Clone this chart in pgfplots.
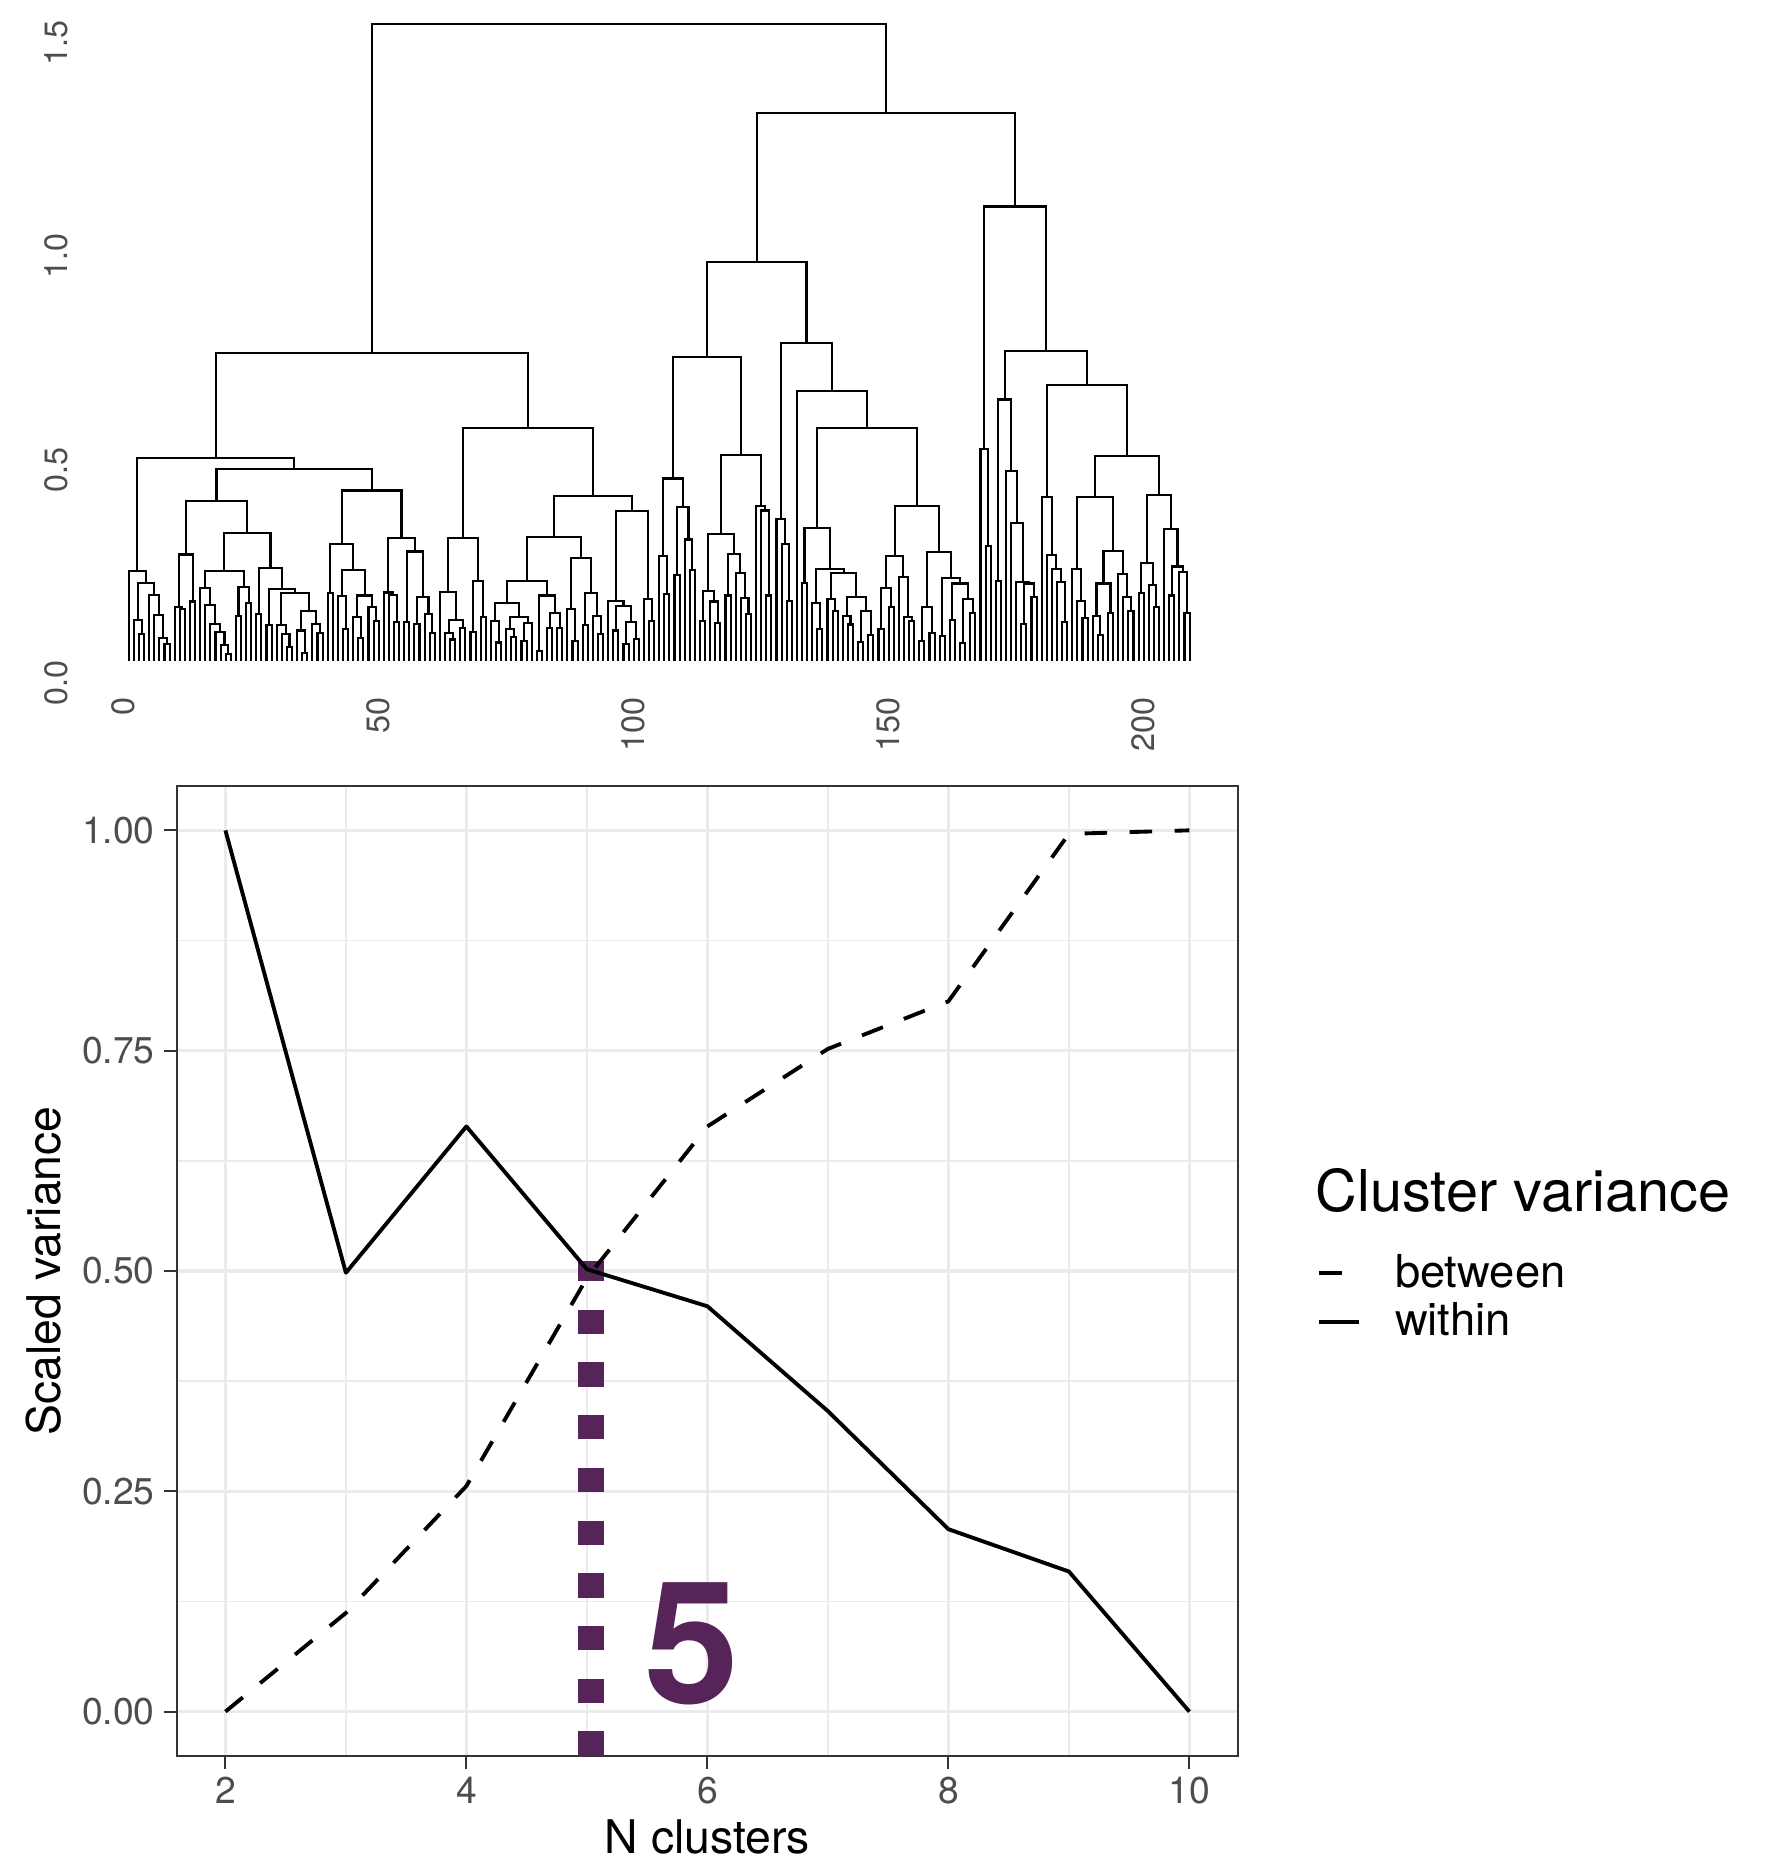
\documentclass[border=0pt]{standalone}
\usepackage{fontspec}
\setmainfont{TeX Gyre Heros}
\usepackage{pgfplots}
\usepackage{pgfplotstable}
\pgfplotsset{compat=1.18}
\definecolor{purp}{HTML}{57245A}
\definecolor{gridc}{HTML}{EBEBEB}
\definecolor{ticklab}{HTML}{4D4D4D}
\definecolor{frame}{HTML}{333333}

% dendrogram merges: left child x/height, right child x/height, merge height
\pgfplotstableread{
xl hl xr hr h
8 0 9 0 0.037
7 0 8.5 0.037 0.051
6 0 7.75 0.051 0.105
5 0 6.875 0.105 0.153
3 0 4 0 0.06
2 0 3.5 0.06 0.093
2.75 0.093 5.94 0.153 0.18
1 0 4.345 0.18 0.208
11 0 12 0 0.119
10 0 11.5 0.119 0.123
13 0 14 0 0.137
10.75 0.123 13.5 0.137 0.247
20 0 21 0 0.014
19 0 20.5 0.014 0.035
18 0 19.75 0.035 0.065
17 0 18.875 0.065 0.085
16 0 17.94 0.085 0.129
15 0 16.97 0.129 0.169
22 0 23 0 0.103
24 0 25 0 0.133
22.5 0.103 24.5 0.133 0.171
15.985 0.169 23.5 0.171 0.208
26 0 27 0 0.107
28 0 29 0 0.081
32 0 33 0 0.03
31 0 32.5 0.03 0.06
30 0 31.75 0.06 0.081
35 0 36 0 0.016
34 0 35.5 0.016 0.069
38 0 39 0 0.064
37 0 38.5 0.064 0.085
34.75 0.069 37.75 0.085 0.115
30.875 0.081 36.25 0.115 0.157
28.5 0.081 33.56 0.157 0.167
26.5 0.107 31.03 0.167 0.216
19.74 0.208 28.77 0.216 0.298
12.125 0.247 24.25 0.298 0.372
40 0 41 0 0.157
43 0 44 0 0.073
42 0 43.5 0.073 0.149
46 0 47 0 0.051
45 0 46.5 0.051 0.101
49 0 50 0 0.091
48 0 49.5 0.091 0.123
45.75 0.101 48.75 0.123 0.151
42.75 0.149 47.25 0.151 0.211
40.5 0.157 45 0.211 0.272
53 0 54 0 0.089
52 0 53.5 0.089 0.153
51 0 52.75 0.153 0.158
55 0 56 0 0.089
57 0 58 0 0.084
60 0 61 0 0.064
59 0 60.5 0.064 0.107
57.5 0.084 59.75 0.107 0.147
55.5 0.089 58.625 0.147 0.254
51.875 0.158 57.06 0.254 0.286
42.75 0.272 54.47 0.286 0.397
18.19 0.372 48.61 0.397 0.447
2.67 0.208 33.4 0.447 0.473
64 0 65 0 0.048
63 0 64.5 0.048 0.063
66 0 67 0 0.075
63.75 0.063 66.5 0.075 0.093
62 0 65.125 0.093 0.159
68 0 69 0 0.065
70 0 71 0 0.101
68.5 0.065 70.5 0.101 0.185
63.56 0.159 69.5 0.185 0.286
73 0 74 0 0.041
72 0 73.5 0.041 0.091
76 0 77 0 0.053
75 0 76.5 0.053 0.072
78 0 79 0 0.045
78.5 0.045 80 0 0.087
75.75 0.072 79.25 0.087 0.101
72.75 0.091 77.5 0.101 0.134
81 0 82 0 0.02
83 0 84 0 0.075
85 0 86 0 0.075
83.5 0.075 85.5 0.075 0.109
81.5 0.02 84.5 0.109 0.151
75.125 0.134 83 0.151 0.185
88 0 89 0 0.045
87 0 88.5 0.045 0.119
90 0 91 0 0.081
93 0 94 0 0.061
92 0 93.5 0.061 0.103
90.5 0.081 92.75 0.103 0.157
87.75 0.119 91.625 0.157 0.238
79.06 0.185 89.69 0.238 0.288
96 0 97 0 0.069
98 0 99 0 0.037
100 0 101 0 0.049
98.5 0.037 100.5 0.049 0.089
96.5 0.069 99.5 0.089 0.126
95 0 98 0.126 0.139
103 0 104 0 0.091
102 0 103.5 0.091 0.143
96.5 0.139 102.75 0.143 0.348
84.375 0.288 99.625 0.348 0.385
66.53 0.286 92 0.385 0.543
18.035 0.473 79.265 0.543 0.718
106 0 107 0 0.154
105 0 106.5 0.154 0.243
108 0 109 0 0.199
111 0 112 0 0.211
110 0 111.5 0.211 0.282
108.5 0.199 110.75 0.282 0.358
105.75 0.243 109.625 0.358 0.425
113 0 114 0 0.091
116 0 117 0 0.087
115 0 116.5 0.087 0.137
113.5 0.091 115.75 0.137 0.161
118 0 119 0 0.151
122 0 123 0 0.107
121 0 122.5 0.107 0.145
120 0 121.75 0.145 0.204
118.5 0.151 120.875 0.204 0.248
114.625 0.161 119.69 0.248 0.296
126 0 127 0 0.151
125 0 126.5 0.151 0.35
124 0 125.75 0.35 0.36
117.16 0.296 124.875 0.36 0.481
107.69 0.425 121.02 0.481 0.709
130 0 131 0 0.139
129 0 130.5 0.139 0.272
128 0 129.75 0.272 0.33
133 0 134 0 0.181
136 0 137 0 0.072
135 0 136.5 0.072 0.133
139 0 140 0 0.115
138 0 139.5 0.115 0.143
142 0 143 0 0.083
141 0 142.5 0.083 0.103
144 0 145 0 0.043
146 0 147 0 0.059
144.5 0.043 146.5 0.059 0.115
141.75 0.103 145.5 0.115 0.147
138.75 0.143 143.625 0.147 0.203
135.75 0.133 141.19 0.203 0.214
133.5 0.181 138.47 0.214 0.31
148 0 149 0 0.072
150 0 151 0 0.123
148.5 0.072 150.5 0.123 0.169
154 0 155 0 0.091
153 0 154.5 0.091 0.101
152 0 153.75 0.101 0.195
149.5 0.169 152.875 0.195 0.244
156 0 157 0 0.045
158 0 159 0 0.064
156.5 0.045 158.5 0.064 0.125
160 0 161 0 0.056
162 0 163 0 0.093
164 0 165 0 0.04
166 0 167 0 0.111
164.5 0.04 166.5 0.111 0.143
162.5 0.093 165.5 0.143 0.179
160.5 0.056 164 0.179 0.191
157.5 0.125 162.25 0.191 0.252
151.19 0.244 159.875 0.252 0.361
135.985 0.31 155.53 0.361 0.543
132 0 145.76 0.543 0.63
128.875 0.33 138.88 0.63 0.742
114.355 0.709 133.88 0.742 0.932
169 0 170 0 0.267
168 0 169.5 0.267 0.495
171 0 172 0 0.185
176 0 177 0 0.085
178 0 179 0 0.147
176.5 0.085 178.5 0.147 0.179
175 0 177.5 0.179 0.183
174 0 176.25 0.183 0.32
173 0 175.125 0.32 0.443
171.5 0.185 174.06 0.443 0.61
184 0 185 0 0.089
183 0 184.5 0.089 0.182
182 0 183.75 0.182 0.212
181 0 182.875 0.212 0.246
180 0 181.94 0.246 0.381
188 0 189 0 0.099
187 0 188.5 0.099 0.138
186 0 187.75 0.138 0.214
191 0 192 0 0.059
190 0 191.5 0.059 0.103
193 0 194 0 0.109
190.75 0.103 193.5 0.109 0.179
197 0 198 0 0.115
196 0 197.5 0.115 0.147
195 0 196.75 0.147 0.202
192.125 0.179 195.875 0.202 0.256
186.875 0.214 194 0.256 0.381
199 0 200 0 0.157
202 0 203 0 0.125
201 0 202.5 0.125 0.175
199.5 0.157 201.75 0.175 0.227
205 0 206 0 0.151
208 0 209 0 0.111
207 0 208.5 0.111 0.206
205.5 0.151 207.75 0.206 0.219
204 0 206.625 0.219 0.306
200.625 0.227 205.31 0.306 0.386
190.44 0.381 202.97 0.386 0.477
180.97 0.381 196.7 0.477 0.643
172.78 0.61 188.835 0.643 0.723
168.75 0.495 180.81 0.723 1.062
124.12 0.932 174.78 1.062 1.28
48.65 0.718 149.45 1.28 1.49
}\dendro

\pgfplotstableread{
n within between
2 1.000 0.000
3 0.498 0.112
4 0.664 0.256
5 0.502 0.492
6 0.460 0.664
7 0.341 0.752
8 0.207 0.806
9 0.159 0.996
10 0.000 1.000
}\variance

\pgfplotsset{
  dendro/.style={draw=none, mark=none, forget plot,
    error bars/error mark=none,
    error bars/error bar style={draw=black, solid, line width=0.6pt, line cap=rect}},
}

\begin{document}
\begin{tikzpicture}
\useasboundingbox (0,0) rectangle (17.88cm,18.62cm);

% dendrogram
\begin{axis}[
  at={(0.758cm,11.70cm)}, anchor=south west,
  scale only axis, width=11.668cm, height=6.725cm,
  xmin=-9.4, xmax=219.4, ymin=-0.075, ymax=1.5,
  clip=false,
  axis line style={draw=none},
  major tick length=0pt, tick style={draw=none},
  xtick={0,50,100,150,200}, ytick={0,0.5,1,1.5},
  xtick pos=left, ytick pos=left,
  ticklabel style={font=\fontsize{9.2}{11}\selectfont, text=ticklab},
  xticklabel style={rotate=90, anchor=east, inner xsep=1.4pt, inner ysep=0pt},
  yticklabel style={rotate=90, anchor=south east, inner xsep=0pt, inner ysep=1.9pt,
    /pgf/number format/fixed, /pgf/number format/fixed zerofill,
    /pgf/number format/precision=1},
  /pgf/number format/assume math mode=true,
]
\addplot[dendro, error bars/x dir=plus, error bars/x explicit]
  table[x=xl, y=h, x error expr=\thisrow{xr}-\thisrow{xl}] {\dendro};
\addplot[dendro, error bars/y dir=plus, error bars/y explicit]
  table[x=xl, y=hl, y error expr=\thisrow{h}-\thisrow{hl}] {\dendro};
\addplot[dendro, error bars/y dir=plus, error bars/y explicit]
  table[x=xr, y=hr, y error expr=\thisrow{h}-\thisrow{hr}] {\dendro};
\end{axis}

% scaled variance
\begin{axis}[
  at={(1.772cm,1.063cm)}, anchor=south west,
  scale only axis, width=10.604cm, height=9.694cm,
  xmin=1.6, xmax=10.4, ymin=-0.05, ymax=1.05,
  xtick={2,4,6,8,10}, ytick={0,0.25,0.5,0.75,1},
  minor xtick={3,5,7,9}, minor ytick={0.125,0.375,0.625,0.875},
  grid=both,
  major grid style={draw=gridc, line width=1pt},
  minor grid style={draw=gridc, line width=0.5pt},
  minor tick length=0pt,
  tick align=outside, major tick length=3.7pt,
  xtick pos=left, ytick pos=left,
  tick style={draw=frame, line width=0.6pt},
  axis line style={draw=frame, line width=0.6pt},
  ticklabel style={font=\fontsize{10.6}{12}\selectfont, text=ticklab, inner sep=0pt},
  xticklabel style={anchor=north, yshift=-2.3pt},
  yticklabel style={anchor=east, xshift=-2.5pt,
    /pgf/number format/fixed, /pgf/number format/fixed zerofill,
    /pgf/number format/precision=2},
  /pgf/number format/assume math mode=true,
  xlabel={N clusters}, ylabel={Scaled variance},
  label style={font=\fontsize{13.2}{15}\selectfont},
  xlabel style={at={(axis description cs:0.5,-0.1009)}, anchor=base},
  ylabel style={at={(axis description cs:-0.1256,0.5)}, anchor=center},
  legend style={at={(1.0745,0.4726)}, anchor=west, draw=none, fill=none,
    inner sep=0pt, row sep=2.9pt, column sep=9.8pt,
    font=\fontsize{12.9}{15}\selectfont, nodes={inner sep=0pt}},
  legend cell align=left,
  legend image code/.code={\draw[#1] (0cm,0cm) -- (0.394cm,0cm);},
]
\addplot[purp, line width=7.4pt, dash pattern=on 6.9pt off 8.1pt, forget plot]
  coordinates {(5.035,-0.05) (5.035,0.511)};
\addplot[black, line width=1.1pt, line join=round, dash pattern=on 6.4pt off 6.4pt]
  table[x=n, y=between] {\variance};
\addplot[black, line width=1.1pt, line join=round]
  table[x=n, y=within] {\variance};
\legend{between, within}
\node[text=purp, font=\fontsize{48.5}{50}\selectfont\bfseries] at (axis cs:5.87,0.077) {5};
\end{axis}

\node[anchor=west, font=\fontsize{16.4}{19}\selectfont] at (13.035cm,6.71cm) {Cluster variance};
\end{tikzpicture}
\end{document}
